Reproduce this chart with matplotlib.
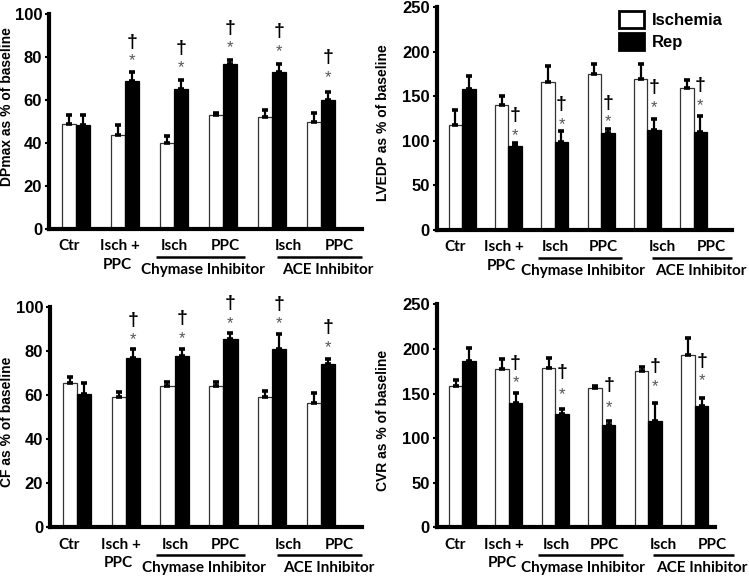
import numpy as np
import matplotlib
matplotlib.use("Agg")
import matplotlib.pyplot as plt
from matplotlib.patches import Patch
from matplotlib.transforms import offset_copy

# groups along the x axis
groups = ["Ctr", "Isch+PPC", "Chym Isch", "Chym PPC", "ACE Isch", "ACE PPC"]

# DPmax
dp_isch = [49.1, 44.0, 40.2, 53.3, 52.2, 49.9]
dp_isch_err = [4.2, 4.6, 3.3, 0.8, 3.4, 3.9]
dp_rep = [48.4, 68.8, 65.4, 77.0, 73.2, 60.3]
dp_rep_err = [4.6, 4.3, 4.2, 1.6, 3.8, 3.5]
dp_star = [None, 78.6, 75.0, 84.3, 82.5, 70.4]
dp_dagger = [None, 87.1, 84.0, 93.6, 91.8, 79.7]

# LVEDP
lv_isch = [117.5, 140.7, 165.7, 174.6, 169.8, 159.7]
lv_isch_err = [17.5, 9.2, 18.9, 11.5, 16.3, 8.9]
lv_rep = [158.6, 94.0, 98.9, 109.0, 111.9, 110.0]
lv_rep_err = [14.8, 4.1, 11.8, 4.4, 13.0, 17.5]
lv_star = [None, 106.3, 118.7, 121.3, 137.3, 139.9]
lv_dagger = [None, 128.7, 141.0, 141.8, 159.7, 162.3]

# CF
cf_isch = [65.3, 58.9, 64.0, 64.2, 59.2, 56.5]
cf_isch_err = [2.9, 2.5, 2.0, 1.6, 2.5, 4.5]
cf_rep = [60.3, 76.6, 77.6, 85.3, 80.8, 74.0]
cf_rep_err = [4.9, 4.0, 3.0, 2.9, 6.6, 2.4]
cf_star = [None, 84.9, 85.6, 92.4, 92.4, 81.4]
cf_dagger = [None, 93.5, 94.7, 101.5, 101.1, 90.5]

# CVR
cvr_isch = [158.4, 177.1, 178.3, 155.8, 175.3, 193.2]
cvr_isch_err = [6.7, 11.9, 11.1, 2.6, 4.7, 19.4]
cvr_rep = [186.5, 139.8, 127.0, 114.7, 119.6, 136.4]
cvr_rep_err = [14.1, 10.3, 5.2, 4.4, 20.1, 8.9]
cvr_star = [None, 162.6, 149.1, 134.2, 157.7, 164.0]
cvr_dagger = [None, 183.9, 173.8, 158.8, 180.1, 185.7]

# category labels under the axis (x in group units)
row1_text = ["Ctr", "Isch +", "Isch", "PPC", "Isch", "PPC"]
row1_x = [-0.15, 0.9, 2.02, 3.05, 4.33, 5.38]
row2_text = ["PPC", "Chymase Inhibitor", "ACE Inhibitor"]
row2_x = [0.85, 2.6, 5.15]
underline_spans = [(1.63, 3.45), (4.1, 5.83)]

LABEL_FONT = "Liberation Sans"
CAT_FONT = "Lato"

fig = plt.figure(figsize=(7.49, 5.8), dpi=100)

panels = [
    # rect, ylabel, ymax, step, data..., xright, label coords
    ([0.0654, 0.6052, 0.4179, 0.3701], "DPmax as % of baseline", 100, 20,
     dp_isch, dp_isch_err, dp_rep, dp_rep_err, dp_star, dp_dagger, 5.84, (-0.112, 0.57)),
    ([0.5830, 0.6034, 0.3939, 0.3840], "LVEDP as % of baseline", 250, 50,
     lv_isch, lv_isch_err, lv_rep, lv_rep_err, lv_star, lv_dagger, 5.82, (-0.158, 0.48)),
    ([0.0668, 0.0908, 0.4165, 0.3805], "CF as % of baseline", 100, 20,
     cf_isch, cf_isch_err, cf_rep, cf_rep_err, cf_star, cf_dagger, 5.84, (-0.116, 0.48)),
    ([0.5830, 0.0908, 0.3716, 0.3845], "CVR as % of baseline", 250, 50,
     cvr_isch, cvr_isch_err, cvr_rep, cvr_rep_err, cvr_star, cvr_dagger, 5.43, (-0.168, 0.48)),
]

x = np.arange(len(groups))
w = 0.29

for (rect, ylabel, ymax, step, isch, isch_err, rep, rep_err, star, dagger,
     xright, lab_xy) in panels:
    ax = fig.add_axes(rect)
    ax.bar(x - w / 2, isch, w, color="white", edgecolor="#333333", linewidth=0.9, zorder=2)
    ax.bar(x + w / 2, rep, w, color="black", edgecolor="black", linewidth=0.9, zorder=2)
    zeros = np.zeros(len(x))
    ax.errorbar(x - w / 2, isch, yerr=[zeros, isch_err], fmt="none", ecolor="black",
                elinewidth=1.6, capsize=2.4, capthick=2.6, zorder=3)
    ax.errorbar(x + w / 2, rep, yerr=[zeros, rep_err], fmt="none", ecolor="black",
                elinewidth=1.6, capsize=2.4, capthick=2.6, zorder=3)

    for xi, sy, dy in zip(x, star, dagger):
        if sy is None:
            continue
        ax.text(xi + w / 2, sy, "*", ha="center", va="center", fontsize=12,
                color="#555555", family=LABEL_FONT)
        ax.text(xi + w / 2, dy, "\u2020", ha="center", va="center", fontsize=14,
                fontweight="bold", color="black", family=LABEL_FONT)

    ax.set_xlim(-0.55, xright)
    ax.set_ylim(0, ymax)
    ax.set_yticks(np.arange(0, ymax + 1, step))
    ax.set_xticks([])
    for lab in ax.get_yticklabels():
        lab.set_fontweight("bold")
        lab.set_family(LABEL_FONT)
        lab.set_fontsize(12)
    ax.tick_params(axis="y", direction="out", length=3, width=1.5, pad=2)
    ax.spines["top"].set_visible(False)
    ax.spines["right"].set_visible(False)
    ax.spines["left"].set_linewidth(3)
    ax.spines["bottom"].set_linewidth(3)
    ax.set_ylabel(ylabel, fontsize=10, fontweight="bold", family=LABEL_FONT)
    ax.yaxis.set_label_coords(*lab_xy)

    # category labels below the axis
    for t, tx in zip(row1_text, row1_x):
        ax.annotate(t, xy=(tx, 0), xycoords=("data", "axes fraction"),
                    xytext=(0, -12.5), textcoords="offset points",
                    ha="center", va="center", fontsize=11, fontweight="bold",
                    family=CAT_FONT, annotation_clip=False)
    for i, (t, tx) in enumerate(zip(row2_text, row2_x)):
        dy = -26 if i == 0 else -29.5
        ax.annotate(t, xy=(tx, 0), xycoords=("data", "axes fraction"),
                    xytext=(0, dy), textcoords="offset points",
                    ha="center", va="center", fontsize=11, fontweight="bold",
                    family=CAT_FONT, annotation_clip=False)
    line_trans = offset_copy(ax.get_xaxis_transform(), fig=fig, y=-20, units="points")
    for x0, x1 in underline_spans:
        ax.plot([x0, x1], [0, 0], color="black", lw=1.8, solid_capstyle="butt",
                transform=line_trans, clip_on=False)

    if ylabel.startswith("LVEDP"):
        handles = [Patch(facecolor="white", edgecolor="black", linewidth=2),
                   Patch(facecolor="black", edgecolor="black", linewidth=2)]
        ax.legend(handles, ["Ischemia", "Rep"], loc="upper left",
                  bbox_to_anchor=(0.815, 0.995), bbox_transform=fig.transFigure,
                  frameon=False, handlelength=1.5, handleheight=1.15,
                  handletextpad=0.5, labelspacing=0.3, borderpad=0,
                  prop=dict(family=LABEL_FONT, weight="bold", size=12))

fig.savefig("out.png", dpi=100)
